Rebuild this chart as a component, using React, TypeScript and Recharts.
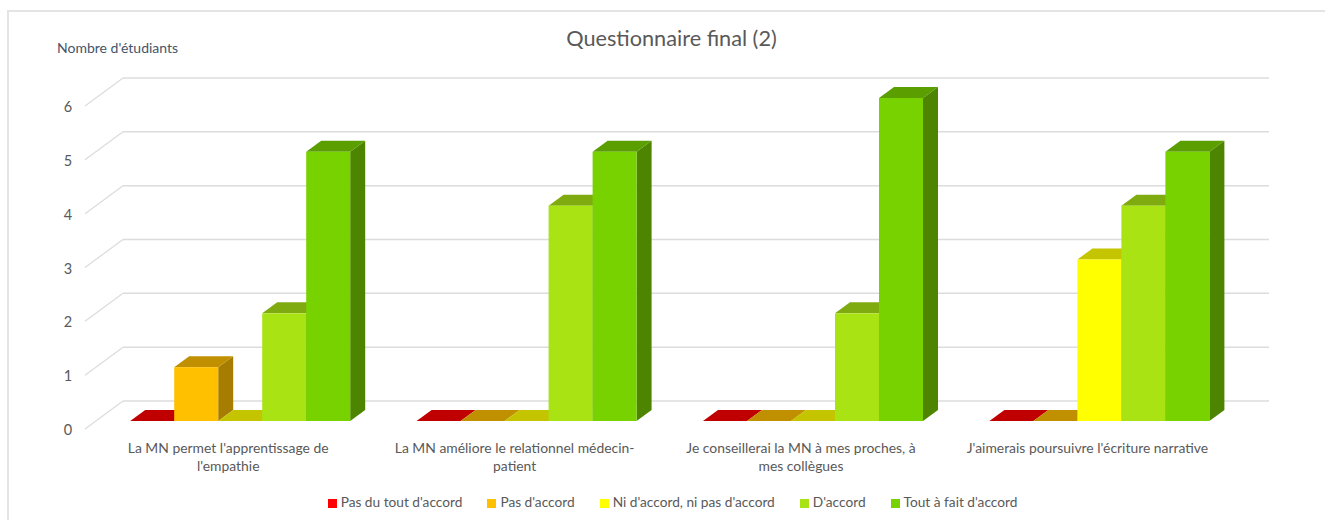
import React from 'react';
import { BarChart, Bar, XAxis, YAxis, CartesianGrid, Legend } from 'recharts';

const categories = [
  "La MN permet l'apprentissage de\nl'empathie",
  "La MN améliore le relationnel médecin-\npatient",
  "Je conseillerai la MN à mes proches, à\nmes collègues",
  "J'aimerais poursuivre l'écriture narrative",
];
const pasDuTout = [0, 0, 0, 0];
const pasDaccord = [1, 0, 0, 0];
const niNi = [0, 0, 0, 3];
const daccord = [2, 4, 2, 4];
const toutAFait = [5, 5, 6, 5];
const yTicks = [0, 1, 2, 3, 4, 5, 6];

const rows = categories.map((name, i) => ({
  name,
  a: pasDuTout[i],
  b: pasDaccord[i],
  c: niNi[i],
  d: daccord[i],
  e: toutAFait[i],
}));

const FONT = 'Lato, "Open Sans", sans-serif';
const DX = 15;
const DY = 11;

const face3d = (top: string, side: string) => (p: any) => {
  const { x, y, width, height, fill } = p;
  const r = x + width;
  const b = y + height;
  return (
    <g>
      <polygon points={`${r},${y} ${r + DX},${y - DY} ${r + DX},${b - DY} ${r},${b}`} fill={side} />
      <polygon points={`${x},${y} ${x + DX},${y - DY} ${r + DX},${y - DY} ${r},${y}`} fill={top} />
      {height > 0 && <rect x={x} y={y} width={width} height={height} fill={fill} />}
    </g>
  );
};

const gridLine = (p: any) => {
  const y = p.y1;
  return (
    <g key={p.key ?? y}>
      <line x1={77} y1={y + 8} x2={115} y2={y - 20} stroke="#dcdcdc" strokeWidth={1.2} />
      <line x1={115} y1={y - 20} x2={1261} y2={y - 20} stroke="#dcdcdc" strokeWidth={1.5} />
    </g>
  );
};

const CategoryTick = (p: any) => {
  const lines = String(p.payload.value).split('\n');
  const x = p.x - 12;
  return (
    <text x={x} y={p.y + 24} textAnchor="middle" fill="#595959" fontSize={13.9} fontFamily={FONT}>
      {lines.map((l, i) => (
        <tspan key={i} x={x} dy={i === 0 ? 0 : 18}>{l}</tspan>
      ))}
    </text>
  );
};

const ValueTick = (p: any) => (
  <text x={60} y={p.y + 14} textAnchor="middle" fill="#595959" fontSize={14.5} fontFamily={FONT}>
    {p.payload.value}
  </text>
);

const legendText = (v: string) => (
  <span style={{ color: '#595959', fontSize: 13.7, fontFamily: FONT, marginRight: 15 }}>{v}</span>
);

export default function App() {
  return (
    <div style={{ position: 'absolute', left: 0, top: 0, width: 1325, height: 520, background: '#fff', overflow: 'hidden' }}>
      <div style={{ position: 'absolute', left: 7, top: 10, width: 1330, height: 530, border: '2px solid #e4e4e4', boxSizing: 'border-box' }} />
      <div style={{ position: 'absolute', left: 8, top: 0 }}>
        <BarChart
          width={1300}
          height={520}
          data={rows}
          barCategoryGap={33.2}
          barGap={0}
          margin={{ top: 98, right: 65.4, bottom: 41, left: 49 }}
        >
          <text x={663.5} y={46} textAnchor="middle" fill="#595959" fontSize={21.7} fontFamily={FONT}>Questionnaire final (2)</text>
          <text x={49} y={53} fill="#44546a" fontSize={14} fontFamily={FONT}>Nombre d'étudiants</text>
          <CartesianGrid vertical={false} horizontal={gridLine} />
          <XAxis dataKey="name" interval={0} axisLine={false} tickLine={false} height={40} tick={CategoryTick} />
          <YAxis domain={[0, 6]} ticks={yTicks} width={40} axisLine={false} tickLine={false} tick={ValueTick} />
          <Legend
            verticalAlign="bottom"
            iconType="square"
            iconSize={9}
            itemSorter={null}
            formatter={legendText}
            wrapperStyle={{ bottom: 9, left: 27, width: 1300 }}
          />
          <Bar dataKey="a" name="Pas du tout d'accord" fill="#ff0000" shape={face3d('#c00000', '#a00000')} isAnimationActive={false} />
          <Bar dataKey="b" name="Pas d'accord" fill="#ffc000" shape={face3d('#c09000', '#a67d00')} isAnimationActive={false} />
          <Bar dataKey="c" name="Ni d'accord, ni pas d'accord" fill="#ffff00" shape={face3d('#c4c400', '#a6a600')} isAnimationActive={false} />
          <Bar dataKey="d" name="D'accord" fill="#a9e314" shape={face3d('#7fab10', '#6e940e')} isAnimationActive={false} />
          <Bar dataKey="e" name="Tout à fait d'accord" fill="#78d200" shape={face3d('#5a9e00', '#4d8500')} isAnimationActive={false} />
        </BarChart>
      </div>
    </div>
  );
}
